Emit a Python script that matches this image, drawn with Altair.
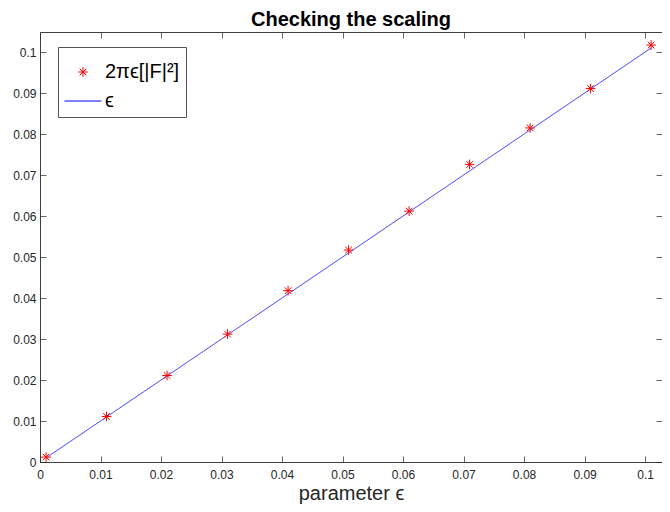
import altair as alt
import pandas as pd

# ---- data ----
eps = [0.001, 0.011, 0.021, 0.031, 0.041, 0.051, 0.061, 0.071, 0.081, 0.091, 0.101]
scaled = [0.0012, 0.0111, 0.0211, 0.0312, 0.0418, 0.0517, 0.0612, 0.0726, 0.0815, 0.0911, 0.1017]
tick_values = [0, 0.01, 0.02, 0.03, 0.04, 0.05, 0.06, 0.07, 0.08, 0.09, 0.1]
series_labels = ["2πϵ[|F|²]", "ϵ"]

FONT = "Liberation Sans"
W, H = 622, 430
AX = "#262626"

pts = pd.DataFrame({"eps": eps, "val": scaled, "series": series_labels[0]})
line = pd.DataFrame({"eps": eps, "val": eps, "series": series_labels[1]})

xscale = alt.Scale(domain=[0, 0.1028], nice=False, zero=False)
yscale = alt.Scale(domain=[0, 0.1049], nice=False, zero=False)

asterisk = ("M0,-0.26L0,0.26M-0.26,0L0.26,0"
            "M-0.18,-0.18L0.18,0.18M-0.18,0.18L0.18,-0.18")

color = alt.Color(
    "series:N",
    scale=alt.Scale(domain=series_labels, range=["#ff0000", "#0000ff"]),
    legend=alt.Legend(title=None),
)
shape = alt.Shape(
    "series:N",
    scale=alt.Scale(domain=series_labels, range=[asterisk, "stroke"]),
    legend=alt.Legend(title=None),
)

main_x = alt.Axis(orient="bottom", values=tick_values, format="~g", ticks=False,
                  domain=False, grid=False, labelFontSize=12, labelColor=AX,
                  labelFont=FONT, labelPadding=7, labelFlush=False, labelOverlap=False,
                  title="parameter ϵ", titleFontSize=20, titleFont=FONT,
                  titleFontWeight="normal", titleColor=AX, titlePadding=3)
main_y = alt.Axis(orient="left", values=tick_values, format="~g", ticks=False,
                  domain=False, grid=False, labelFontSize=12, labelColor=AX,
                  labelFont=FONT, labelPadding=4, labelFlush=False, labelOverlap=False,
                  title=None)


def tick_axis(orient, offset):
    return alt.Axis(orient=orient, offset=offset, values=tick_values, labels=False,
                    domain=False, grid=False, ticks=True, tickSize=6,
                    tickColor=AX, tickWidth=0.7, title=None)


line_layer = alt.Chart(line).mark_line(strokeWidth=0.7).encode(
    x=alt.X("eps:Q", scale=xscale, axis=main_x),
    y=alt.Y("val:Q", scale=yscale, axis=main_y),
    color=color,
)

point_layer = alt.Chart(pts).mark_point(filled=False, size=1369, strokeWidth=1,
                                        opacity=1).encode(
    x=alt.X("eps:Q", scale=xscale, axis=tick_axis("top", -H)),
    y=alt.Y("val:Q", scale=yscale, axis=tick_axis("right", -W)),
    color=color,
    shape=shape,
)

tick_layer = alt.Chart(pts).mark_point(opacity=0).encode(
    x=alt.X("eps:Q", scale=xscale, axis=tick_axis("bottom", -H)),
    y=alt.Y("val:Q", scale=yscale, axis=tick_axis("left", -W)),
)

chart = alt.layer(line_layer, point_layer, tick_layer).resolve_axis(
    x="independent", y="independent"
).properties(
    width=W,
    height=H,
    title=alt.Title("Checking the scaling", fontSize=20, fontWeight="bold",
                    font=FONT, color="black", offset=2, anchor="middle"),
    autosize=alt.AutoSizeParams(type="none"),
    padding={"left": 32, "top": 24, "right": 0, "bottom": 42},
).configure_view(
    stroke="#404040", strokeWidth=1
).configure_legend(
    orient="none", legendX=18, legendY=15, fillColor="white", strokeColor="#555555",
    padding=6, labelFontSize=20, labelFont=FONT, labelColor="black",
    symbolSize=1369, symbolStrokeWidth=1, rowPadding=0, labelOffset=3,
    cornerRadius=0,
)

chart.save("out.html", embed_options={"renderer": "svg", "actions": False})
